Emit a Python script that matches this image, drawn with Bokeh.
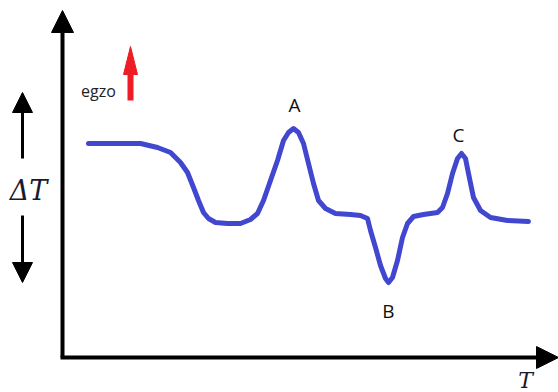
from bokeh.plotting import figure
from bokeh.models import Range1d, Arrow, NormalHead, Label
from bokeh.embed import file_html
from bokeh.resources import INLINE

# DTA trace: temperature (horizontal) vs. temperature difference (vertical)
T = [88, 140, 157, 170, 180, 187, 193, 198, 203, 208, 215, 227, 240, 250,
     257, 263, 270, 277, 283, 288, 293, 298, 303, 308, 313, 318, 325, 335,
     350, 360, 367, 370, 375, 380, 385, 388, 392, 397, 402, 407, 413, 423,
     437, 442, 447, 452, 457, 461, 465, 468, 473, 480, 490, 507, 528]
dT = [249, 249, 245, 240, 230, 220, 205, 192, 180, 174, 170, 169, 169, 173,
      179, 192, 212, 232, 252, 260, 264, 260, 249, 229, 209, 192, 184, 179,
      178, 177, 174, 162, 145, 127, 114, 110, 115, 132, 155, 169, 176, 178,
      180, 185, 199, 219, 234, 239, 234, 219, 195, 182, 175, 172, 171]

peak_names = ["A", "B", "C"]
peak_T = [294, 388, 458]
peak_label_y = [288, 82, 258]

p = figure(width=558, height=392, output_backend="svg", toolbar_location=None,
           x_range=Range1d(0, 558), y_range=Range1d(0, 392),
           min_border=0, background_fill_color="white")
p.axis.visible = False
p.grid.visible = False
p.outline_line_color = None

# axes drawn as arrows
p.add_layout(Arrow(end=NormalHead(size=22, fill_color="black", line_color="black"),
                   x_start=62, y_start=35, x_end=62, y_end=382,
                   line_width=4, line_color="black"))
p.add_layout(Arrow(end=NormalHead(size=22, fill_color="black", line_color="black"),
                   x_start=60, y_start=35, x_end=558, y_end=35,
                   line_width=4, line_color="black"))

# direction arrows beside the ΔT label
p.add_layout(Arrow(end=NormalHead(size=20, fill_color="black", line_color="black"),
                   x_start=22, y_start=234, x_end=22, y_end=300,
                   line_width=3, line_color="black"))
p.add_layout(Arrow(end=NormalHead(size=20, fill_color="black", line_color="black"),
                   x_start=22, y_start=177, x_end=22, y_end=110,
                   line_width=3, line_color="black"))

# red exo arrow
p.line([130, 130], [292, 322], line_width=6, line_color="#ee1c25")
p.patch([123, 137, 130], [318, 318, 346], fill_color="#ee1c25", line_color="#ee1c25")

p.line(T, dT, line_width=5, line_color="#4247d0", line_join="round", line_cap="round")

for name, x, y in zip(peak_names, peak_T, peak_label_y):
    p.add_layout(Label(x=x, y=y, text=name, text_align="center", text_baseline="middle",
                       text_font="Open Sans", text_font_size="19px", text_color="#111111"))

p.add_layout(Label(x=98, y=302, text="egzo", text_align="center", text_baseline="middle",
                   text_font="Open Sans", text_font_size="16px", text_color="#222222"))
p.add_layout(Label(x=28, y=202, text="ΔT", text_align="center", text_baseline="middle",
                   text_font="DejaVu Serif", text_font_style="italic",
                   text_font_size="27px", text_color="#1a1a2e"))
p.add_layout(Label(x=525, y=0, text="T", text_align="center", text_baseline="bottom",
                   text_font="DejaVu Serif", text_font_style="italic",
                   text_font_size="22px", text_color="#1a1a2e"))

open("out.html", "w").write(file_html(p, INLINE))
